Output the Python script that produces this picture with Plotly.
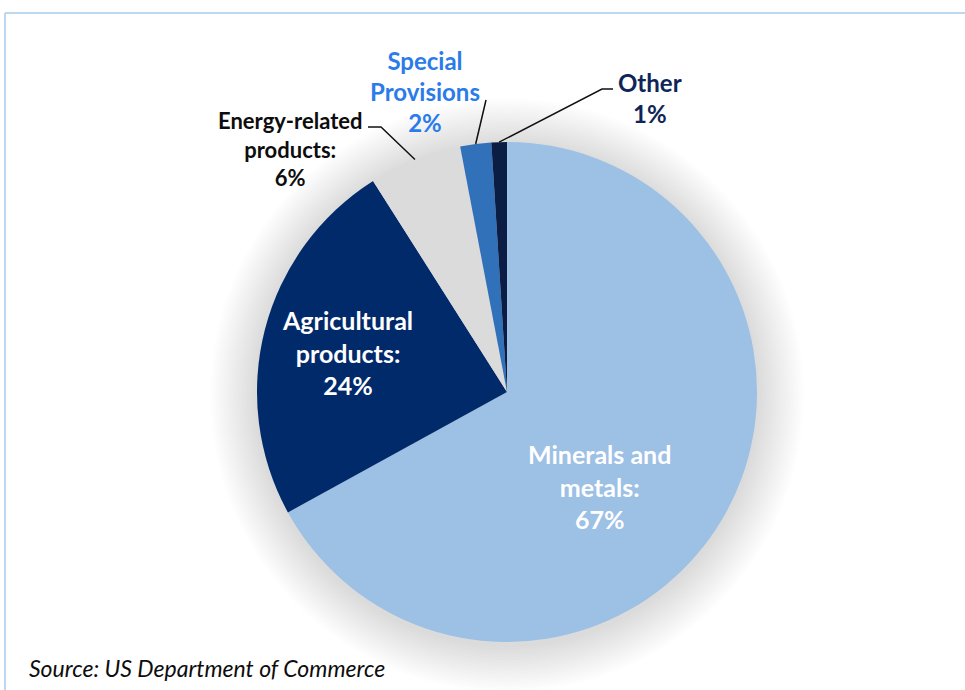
import math
import plotly.graph_objects as go

# Share of items by product category
categories = ["Minerals and metals", "Agricultural products", "Energy-related products",
              "Special Provisions", "Other"]
shares = [67, 24, 6, 2, 1]
label_heads = ["Minerals and<br>metals:", "Agricultural<br>products:", "Energy-related<br>products:",
               "Special<br>Provisions", "Other"]

slice_colors = ["#9DC0E5", "#012A6A", "#DBDBDB", "#3171B9", "#0B1D45"]
label_colors = ["#FFFFFF", "#FFFFFF", "#0D0D0D", "#2B7BE9", "#0F2557"]
label_sizes = [25, 25, 22, 24, 24]
# label block centres (px) and leader-line start/elbow points (px); None = inside label
label_pos = [(599, 486), (347, 352), (290, 149), (425, 92), (650, 98)]
leader_start = [None, None, [(368, 127), (381, 127)], [(486, 100)], [(613, 89), (602, 89)]]

W, H = 965, 690
CX, CY, R = 507, 392, 250
FONT = "Lato"


def px(x):
    return x / W


def py(y):
    return 1 - y / H


def edge_point(idx):
    total = sum(shares)
    start = sum(shares[:idx]) / total * 360
    mid = math.radians(start + shares[idx] / total * 180)
    return CX + R * math.sin(mid), CY - R * math.cos(mid)


fig = go.Figure(go.Pie(
    labels=categories,
    values=shares,
    sort=False,
    direction="clockwise",
    rotation=0,
    marker=dict(colors=slice_colors, line=dict(width=0)),
    textinfo="none",
    hoverinfo="label+percent",
    domain=dict(x=[px(CX - R), px(CX + R)], y=[py(CY + R), py(CY - R)]),
    showlegend=False,
))

shapes = []
# soft glow around the pie
n_glow = 18
for k in range(n_glow, 0, -1):
    rr = R + 2.6 * k
    shapes.append(dict(
        type="circle", xref="paper", yref="paper", layer="below",
        x0=px(CX - rr), x1=px(CX + rr), y0=py(CY + 3 + rr), y1=py(CY + 3 - rr),
        fillcolor="rgba(0,0,0,0.0075)", line=dict(width=0),
    ))

# frame lines
frame = "#BDD7EE"
shapes.append(dict(type="line", xref="paper", yref="paper", x0=px(5), x1=1, y0=py(13), y1=py(13),
                   line=dict(color=frame, width=2)))
shapes.append(dict(type="line", xref="paper", yref="paper", x0=px(5), x1=px(5), y0=py(13), y1=0,
                   line=dict(color=frame, width=2)))

# leader lines for outside labels
for i, pts in enumerate(leader_start):
    if pts is None:
        continue
    ex, ey = edge_point(i)
    all_pts = pts + [(ex, ey)]
    path = "M " + " L ".join(f"{px(x):.5f},{py(y):.5f}" for x, y in all_pts)
    shapes.append(dict(type="path", xref="paper", yref="paper", path=path, layer="above",
                       line=dict(color="#111111", width=1.5)))

annotations = []
for i, head in enumerate(label_heads):
    x, y = label_pos[i]
    annotations.append(dict(
        text=f"<b>{head}<br>{shares[i]}%</b>",
        x=px(x), y=py(y), xref="paper", yref="paper",
        xanchor="center", yanchor="middle", showarrow=False, align="center",
        font=dict(family=FONT, size=label_sizes[i], color=label_colors[i]),
    ))

annotations.append(dict(
    text="<i>Source: US Department of Commerce</i>",
    x=px(27), y=py(668), xref="paper", yref="paper",
    xanchor="left", yanchor="middle", showarrow=False,
    font=dict(family=FONT, size=23, color="#0D0D0D"),
))

fig.update_layout(
    width=W, height=H,
    margin=dict(l=0, r=0, t=0, b=0),
    paper_bgcolor="white",
    plot_bgcolor="white",
    shapes=shapes,
    annotations=annotations,
)

fig.write_html("out.html")
